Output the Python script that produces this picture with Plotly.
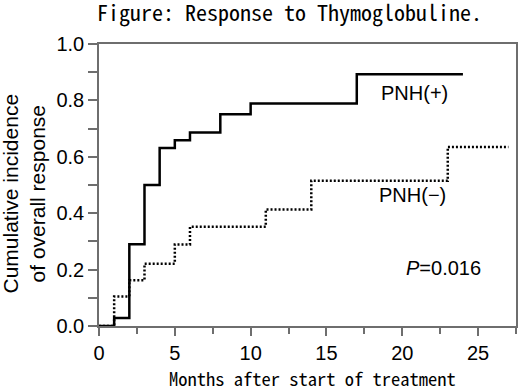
import plotly.graph_objects as go

# Data
pos_months = [0, 1, 2, 3, 4, 5, 6, 8, 10, 17, 24]
pos_cuminc = [0, 0.028, 0.29, 0.50, 0.631, 0.659, 0.686, 0.751, 0.789, 0.893, 0.893]
neg_months = [0, 1, 2, 3, 5, 6, 11, 14, 23, 27]
neg_cuminc = [0, 0.105, 0.162, 0.221, 0.289, 0.352, 0.413, 0.515, 0.635, 0.635]

title_text = "Figure: Response to Thymoglobuline."
x_title = "Months after start of treatment"
y_title = "Cumulative incidence<br>of overall response"
pos_label = "PNH(+)"
neg_label = "PNH(−)"
p_label = "<i>P</i>=0.016"

SANS = "Liberation Sans, Arial, sans-serif"
GOTH = "Noto Sans Mono CJK JP, Noto Sans CJK JP, sans-serif"
AXC = "#6e6e6e"

fig = go.Figure()
fig.add_trace(go.Scatter(x=neg_months, y=neg_cuminc, mode="lines", line_shape="hv",
                         line=dict(color="black", width=2.5, dash="2px,2px"),
                         cliponaxis=False, showlegend=False))
fig.add_trace(go.Scatter(x=pos_months, y=pos_cuminc, mode="lines", line_shape="hv",
                         line=dict(color="black", width=2.5),
                         cliponaxis=False, showlegend=False))

fig.update_layout(
    width=520, height=388,
    margin=dict(l=99, r=2, t=44, b=62),
    paper_bgcolor="white", plot_bgcolor="white",
    font=dict(family=SANS, size=20, color="black"),
    xaxis=dict(range=[0, 27.5], tickvals=[0, 5, 10, 15, 20, 25],
               ticks="outside", ticklen=8, tickwidth=1.5, tickcolor=AXC,
               minor=dict(dtick=2.5, tick0=0, ticks="outside", ticklen=6, tickwidth=1.5, tickcolor=AXC),
               showline=True, linecolor=AXC, linewidth=1.5, mirror=True,
               showgrid=False, zeroline=False, tickfont=dict(family=SANS, size=20)),
    yaxis=dict(range=[0, 1], tickvals=[0, 0.2, 0.4, 0.6, 0.8, 1.0], tickformat=".1f",
               ticks="outside", ticklen=9, tickwidth=1.5, tickcolor=AXC,
               minor=dict(dtick=0.1, tick0=0, ticks="outside", ticklen=9, tickwidth=1.5, tickcolor=AXC),
               showline=True, linecolor=AXC, linewidth=1.5, mirror=True,
               showgrid=False, zeroline=False, tickfont=dict(family=SANS, size=20)),
    annotations=[
        dict(text=title_text, xref="paper", yref="paper", x=0.458, y=1.118,
             xanchor="center", yanchor="middle", showarrow=False,
             font=dict(family=GOTH, size=22)),
        dict(text=x_title, xref="paper", yref="paper", x=0.513, y=-0.185,
             xanchor="center", yanchor="middle", showarrow=False,
             font=dict(family=GOTH, size=18.5)),
        dict(text=y_title, xref="paper", yref="paper", x=-0.1797, y=0.47,
             xanchor="center", yanchor="middle", showarrow=False, textangle=-90,
             font=dict(family=SANS, size=21)),
        dict(text=pos_label, x=20.8, y=0.828, xref="x", yref="y", showarrow=False,
             xanchor="center", yanchor="middle", font=dict(family=SANS, size=20)),
        dict(text=neg_label, x=20.7, y=0.464, xref="x", yref="y", showarrow=False,
             xanchor="center", yanchor="middle", font=dict(family=SANS, size=20)),
        dict(text=p_label, x=22.75, y=0.204, xref="x", yref="y", showarrow=False,
             xanchor="center", yanchor="middle", font=dict(family=SANS, size=20)),
    ],
)

fig.write_html("out.html", config={"displayModeBar": False},
               post_script="document.body.style.margin='0';")
